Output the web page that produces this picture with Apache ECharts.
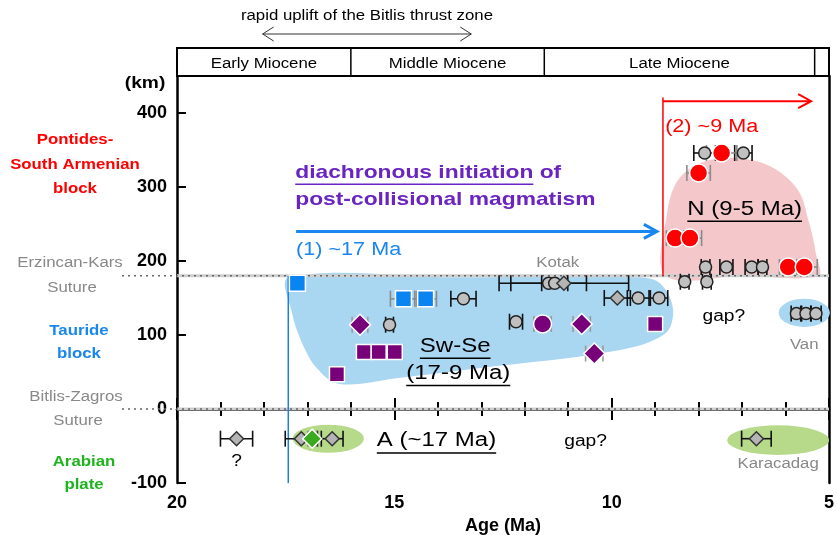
<!DOCTYPE html>
<html>
<head>
<meta charset="utf-8">
<script src="https://cdn.jsdelivr.net/npm/echarts@6/dist/echarts.min.js"></script>
<style>
  html, body { margin: 0; padding: 0; background: #fff; }
  #chart { width: 837px; height: 540px; }
</style>
</head>
<body>
<div id="chart"></div>
<script>
// ---- data: [age (Ma), distance (km), ± age error (Ma)] ----
const grayCircles = [
  [13.41, 149, 0.29], [15.11, 114, 0.09], [12.20, 118, 0.15],
  [11.45, 170, 0.87], [11.31, 170, 0.30],
  [9.39, 150, 0.25], [8.91, 150, 0.20],
  [8.32, 172, 0.10], [7.81, 172, 0.10],
  [7.86, 346, 0.25], [6.97, 346, 0.20],
  [7.84, 192, 0.10], [7.36, 192, 0.15], [6.78, 192, 0.15], [6.53, 192, 0.10],
  [5.75, 129, 0.12], [5.53, 129, 0.12], [5.30, 129, 0.12]
];
const grayDiamonds = [
  [11.10, 170, 1.49], [9.87, 150, 0.30],
  [18.63, -40, 0.37], [17.14, -40, 0.37], [16.43, -40, 0.25], [6.67, -40, 0.34]
];
const redCircles = [
  [7.47, 346, 0.35], [8.00, 319, 0.27], [8.54, 231, 0.20], [8.20, 231, 0.27],
  [5.94, 192, 0.20], [5.57, 192, 0.30]
];
const blueSquares = [[17.23, 170, 0], [14.79, 149, 0.30], [14.28, 149, 0.25]];
const purpleDiamonds = [[15.79, 114, 0.18], [10.69, 115, 0.20], [10.40, 75, 0.20]];
const purpleCircles = [[11.59, 115, 0.20]];
const purpleSquares = [[15.70, 77, 0], [15.36, 77, 0], [14.99, 77, 0], [16.32, 47, 0], [9.00, 115, 0.15]];
const greenDiamonds = [[16.89, -40, 0.10]];

// outlines of the shaded groups [age, km]
const blobN = [[8.75, 180], [8.73, 263], [8.43, 313], [7.71, 337], [6.56, 333], [5.75, 299], [5.45, 250],
               [5.30, 210], [5.25, 180], [7.01, 180]];
const blobSwSe = [[17.42, 178], [13.53, 178], [9.41, 178], [8.89, 170], [8.59, 136], [8.77, 102], [9.87, 79],
                  [13.07, 55], [14.90, 42], [16.27, 34], [16.78, 55], [17.12, 89], [17.35, 129]];
// ellipses [age, km, half width (Ma), half height (km)]
const vanEllipse = [[5.57, 130, 0.59, 19]];
const arabEllipses = [[16.52, -40, 0.82, 19], [6.17, -42, 1.17, 20]];

// reference lines
const sutureKm = [180, 0];
const onsetAges = [17.44, 8.82];
const blueArrow = [17.26, 8.96, 240];
const redArrow = [8.82, 5.41, 416];
const epochNames = ['Early Miocene', 'Middle Miocene', 'Late Miocene'];
const epochBounds = [20, 16, 11.55, 5.33];
const upliftAges = [18.03, 13.23];

// in-plot notes
const notes = [
  { at: [6.94, 270], text: 'N (9-5 Ma)', kind: 'region' },
  { at: [13.60, 85], text: 'Sw-Se', kind: 'region' },
  { at: [13.53, 48], text: '(17-9 Ma)', kind: 'region' },
  { at: [14.03, -43], text: 'A (~17 Ma)', kind: 'region' },
  { at: [11.24, 197], text: 'Kotak', kind: 'gray' },
  { at: [7.42, 125], text: 'gap?', kind: 'gap' },
  { at: [10.60, -44], text: 'gap?', kind: 'gap' },
  { at: [5.57, 86], text: 'Van', kind: 'gray' },
  { at: [6.17, -75], text: 'Karacadag', kind: 'gray' },
  { at: [18.63, -71], text: '?', kind: 'gap' },
  { at: [17.26, 215], text: '(1) ~17 Ma', kind: 'blue' },
  { at: [8.77, 381], text: '(2) ~9 Ma', kind: 'red' },
  { at: [17.28, 319], text: 'diachronous initiation of', kind: 'head', under: 'diachronous initiation' },
  { at: [17.28, 283], text: 'post-collisional magmatism', kind: 'head' }
];

const FONT = '"Liberation Sans", Arial, Helvetica, sans-serif';
const SX = 1.2; // the original lettering is a little wide
const noteStyle = {
  region: { size: 20, color: '#000', weight: 'normal', align: 'center', underline: true },
  gray: { size: 14, color: '#888', weight: 'normal', align: 'center' },
  gap: { size: 16, color: '#000', weight: 'normal', align: 'center' },
  blue: { size: 18, color: '#1a86f0', weight: 'normal', align: 'left' },
  red: { size: 18, color: '#ff0000', weight: 'normal', align: 'left' },
  head: { size: 19, color: '#6a25c0', weight: 'bold', align: 'left' }
};

const measure = document.createElement('canvas').getContext('2d');
function textWidth(t, s) {
  measure.font = s.weight + ' ' + s.size + 'px ' + FONT;
  return measure.measureText(t).width * SX;
}
function textEl(x, y, t, s) {
  return {
    type: 'text', x: x, y: y, scaleX: SX,
    style: {
      text: t, fill: s.color, font: s.weight + ' ' + s.size + 'px ' + FONT,
      align: s.align, verticalAlign: 'middle', textAlign: s.align, textVerticalAlign: 'middle'
    }
  };
}

function errSeries(data, color) {
  return {
    type: 'custom', z: 3, silent: true, data: data, encode: { x: 0, y: 1 },
    renderItem: function (params, api) {
      const a = api.value(0), k = api.value(1), e = api.value(2);
      if (!e) return null;
      const l = api.coord([a + e, k]), r = api.coord([a - e, k]);
      const h = 8, st = { stroke: color, lineWidth: 1.6 };
      return {
        type: 'group', children: [
          { type: 'line', shape: { x1: l[0], y1: l[1], x2: r[0], y2: r[1] }, style: st },
          { type: 'line', shape: { x1: l[0], y1: l[1] - h, x2: l[0], y2: l[1] + h }, style: st },
          { type: 'line', shape: { x1: r[0], y1: r[1] - h, x2: r[0], y2: r[1] + h }, style: st }
        ]
      };
    }
  };
}

function dots(data, symbol, size, color, border) {
  return {
    type: 'scatter', z: 4, silent: true, symbol: symbol, symbolSize: size,
    data: data.map(function (d) { return [d[0], d[1]]; }),
    itemStyle: { color: color, borderColor: border, borderWidth: 1.5, opacity: 1 }
  };
}

function blobSeries(pts, color) {
  return {
    type: 'custom', z: 1, silent: true, data: [pts[0]], encode: { x: 0, y: 1 },
    renderItem: function (params, api) {
      return {
        type: 'polygon',
        shape: { points: pts.map(function (p) { return api.coord(p); }), smooth: 0.35 },
        style: { fill: color }
      };
    }
  };
}

function ellipseSeries(list, color) {
  return {
    type: 'custom', z: 1, silent: true, data: list, encode: { x: 0, y: 1 },
    renderItem: function (params, api) {
      const c = api.coord([api.value(0), api.value(1)]);
      const s = api.size([api.value(2), api.value(3)]);
      return {
        type: 'circle', x: c[0], y: c[1], scaleX: s[0] / s[1],
        shape: { cx: 0, cy: 0, r: s[1] }, style: { fill: color }
      };
    }
  };
}

const guideSeries = {
  type: 'custom', z: 2, silent: true, data: [[12, 0]], encode: { x: 0, y: 1 },
  renderItem: function (params, api) {
    const kids = [];
    sutureKm.forEach(function (k) {
      const a = api.coord([20, k]), b = api.coord([5, k]);
      kids.push({ type: 'line', shape: { x1: a[0], y1: a[1], x2: b[0], y2: b[1] }, style: { stroke: '#cfcfcf', lineWidth: 3 } });
      kids.push({ type: 'line', shape: { x1: a[0] - 55, y1: a[1], x2: b[0], y2: b[1] }, style: { stroke: '#666', lineWidth: 1.5, lineDash: [2, 4] } });
    });
    const v1a = api.coord([onsetAges[0], sutureKm[0]]), v1b = api.coord([onsetAges[0], -100]);
    kids.push({ type: 'line', shape: { x1: v1a[0], y1: v1a[1], x2: v1b[0], y2: v1b[1] }, style: { stroke: '#1a80e6', lineWidth: 1.5 } });
    const v2a = api.coord([onsetAges[1], 421]), v2b = api.coord([onsetAges[1], sutureKm[0]]);
    kids.push({ type: 'line', shape: { x1: v2a[0], y1: v2a[1], x2: v2b[0], y2: v2b[1] }, style: { stroke: '#ff0000', lineWidth: 1.5 } });
    [[blueArrow, '#1a86f0', 3], [redArrow, '#ff0000', 2]].forEach(function (d) {
      const a = api.coord([d[0][0], d[0][2]]), b = api.coord([d[0][1], d[0][2]]);
      const st = { stroke: d[1], lineWidth: d[2], fill: null };
      kids.push({ type: 'line', shape: { x1: a[0], y1: a[1], x2: b[0] - 1, y2: b[1] }, style: st });
      kids.push({ type: 'polyline', shape: { points: [[b[0] - 13, b[1] - 7], [b[0], b[1]], [b[0] - 13, b[1] + 7]] }, style: st });
    });
    return { type: 'group', children: kids };
  }
};

const noteSeries = {
  type: 'custom', z: 5, silent: true, data: notes.map(function (n) { return n.at; }), encode: { x: 0, y: 1 },
  renderItem: function (params, api) {
    const n = notes[params.dataIndex];
    const s = noteStyle[n.kind];
    const p = api.coord(n.at);
    const kids = [textEl(p[0], p[1], n.text, s)];
    let w = 0, x0 = p[0];
    if (s.underline) { w = textWidth(n.text, s); x0 = p[0] - w / 2; }
    if (n.under) { w = textWidth(n.under, s); }
    if (w) {
      const y = p[1] + s.size * 0.6;
      kids.push({ type: 'line', shape: { x1: x0, y1: y, x2: x0 + w, y2: y }, style: { stroke: s.color, lineWidth: 1.5 } });
    }
    return { type: 'group', children: kids };
  }
};

const axisLine = { show: true, lineStyle: { color: '#000', width: 2.5 } };
const xCommon = {
  type: 'value', min: 5, max: 20, interval: 5, inverse: true,
  axisLine: axisLine,
  axisTick: { inside: true, length: 11, lineStyle: { color: '#000', width: 2 } },
  minorTick: { show: true, splitNumber: 5, length: 7, lineStyle: { color: '#000', width: 2 } },
  splitLine: { show: false }
};

const chart = echarts.init(document.getElementById('chart'));
chart.setOption({
  animation: false,
  backgroundColor: '#fff',
  grid: { left: 177, right: 4, top: 76, bottom: 55 },
  xAxis: [
    Object.assign({}, xCommon, {
      position: 'bottom',
      axisLabel: { fontSize: 18, fontWeight: 'bold', color: '#000', fontFamily: FONT, margin: 11 },
      name: 'Age (Ma)', nameLocation: 'middle', nameGap: 32,
      nameTextStyle: { fontSize: 18, fontWeight: 'bold', color: '#000', fontFamily: FONT }
    }),
    Object.assign({}, xCommon, { position: 'top', axisLabel: { show: false } })
  ],
  yAxis: [
    {
      type: 'value', min: -100, max: 450, interval: 100, position: 'left',
      axisLine: axisLine,
      axisTick: { inside: true, length: 9, lineStyle: { color: '#000', width: 2 } },
      axisLabel: { fontSize: 18, fontWeight: 'bold', color: '#000', fontFamily: FONT, margin: 10, showMaxLabel: false,
        formatter: function (v) { return v === 450 ? '' : v; } },
      splitLine: { show: false }
    },
    {
      type: 'value', min: -100, max: 450, interval: 100, position: 'right',
      axisLine: axisLine, axisTick: { show: false }, axisLabel: { show: false }, splitLine: { show: false }
    }
  ],
  series: [
    blobSeries(blobSwSe, '#a9d6f1'),
    blobSeries(blobN, '#f4c8cb'),
    ellipseSeries(vanEllipse, '#a9d6f1'),
    ellipseSeries(arabEllipses, '#b6d98a'),
    guideSeries,
    errSeries(grayCircles, '#111'),
    errSeries(grayDiamonds, '#111'),
    errSeries(redCircles, '#8a8a8a'),
    errSeries(blueSquares, '#8a8a8a'),
    errSeries(purpleDiamonds, '#9a9a9a'),
    errSeries(purpleCircles, '#9a9a9a'),
    errSeries(purpleSquares, '#9a9a9a'),
    errSeries(greenDiamonds, '#8a8a8a'),
    dots(grayCircles, 'circle', 12, '#c0c0c0', '#222'),
    dots(grayDiamonds, 'diamond', 14, '#b4b4b4', '#333'),
    dots(redCircles, 'circle', 18, '#ff0000', '#fff'),
    dots(blueSquares, 'rect', 16, '#0a84f0', '#fff'),
    dots(purpleSquares, 'rect', 15, '#780078', '#fff'),
    dots(purpleDiamonds, 'diamond', 21, '#780078', '#fff'),
    dots(purpleCircles, 'circle', 18, '#780078', '#fff'),
    dots(greenDiamonds, 'diamond', 19, '#3aaa1e', '#fff'),
    noteSeries
  ]
});

// ---- layout outside the plot area ----
const P = function (a, k) { return chart.convertToPixel({ xAxisIndex: 0, yAxisIndex: 0 }, [a, k]); };
const plotTop = P(20, 450)[1];
const boxTop = 48;
const g = [];
function label(x, y, t, color, weight, size) {
  const s = { size: size, color: color, weight: weight, align: 'center' };
  const el = textEl(x, y, t, s);
  el.z = 20;
  return el;
}
// epoch strip
const xl = P(20, 0)[0], xr = P(5, 0)[0];
g.push({ type: 'rect', z: 20, shape: { x: xl, y: boxTop, width: xr - xl, height: plotTop - boxTop },
  style: { fill: 'rgba(0,0,0,0)', stroke: '#000', lineWidth: 2 } });
epochBounds.slice(1).forEach(function (b) {
  const x = P(b, 0)[0];
  g.push({ type: 'line', z: 20, shape: { x1: x, y1: boxTop, x2: x, y2: plotTop }, style: { stroke: '#000', lineWidth: 1.5 } });
});
epochNames.forEach(function (n, i) {
  const x = (P(epochBounds[i], 0)[0] + P(epochBounds[i + 1], 0)[0]) / 2;
  g.push(label(x, 64, n, '#000', 'normal', 14));
});
// uplift arrow
const ua = P(upliftAges[0], 0)[0], ub = P(upliftAges[1], 0)[0];
g.push(label((ua + ub) / 2, 16, 'rapid uplift of the Bitlis thrust zone', '#000', 'normal', 14));
g.push({ type: 'line', z: 20, shape: { x1: ua, y1: 34, x2: ub, y2: 34 }, style: { stroke: '#333', lineWidth: 1 } });
g.push({ type: 'polyline', z: 20, shape: { points: [[ua + 11, 27], [ua, 34], [ua + 11, 41]] }, style: { stroke: '#333', lineWidth: 1, fill: null } });
g.push({ type: 'polyline', z: 20, shape: { points: [[ub - 11, 27], [ub, 34], [ub - 11, 41]] }, style: { stroke: '#333', lineWidth: 1, fill: null } });
// unit and block names
g.push(label(145, 84, '(km)', '#000', 'bold', 16));
g.push(label(75, 140, 'Pontides-', '#ff0000', 'bold', 14));
g.push(label(75, 165, 'South Armenian', '#ff0000', 'bold', 14));
g.push(label(75, 189, 'block', '#ff0000', 'bold', 14));
g.push(label(70, 263, 'Erzincan-Kars', '#888', 'normal', 14));
g.push(label(72, 288, 'Suture', '#888', 'normal', 14));
g.push(label(79, 331, 'Tauride', '#1a86f0', 'bold', 14));
g.push(label(79, 354, 'block', '#1a86f0', 'bold', 14));
g.push(label(76, 397, 'Bitlis-Zagros', '#888', 'normal', 14));
g.push(label(78, 421, 'Suture', '#888', 'normal', 14));
g.push(label(84, 462, 'Arabian', '#1fb41f', 'bold', 14));
g.push(label(84, 485, 'plate', '#1fb41f', 'bold', 14));

chart.setOption({ graphic: { elements: g } });
</script>
</body>
</html>
